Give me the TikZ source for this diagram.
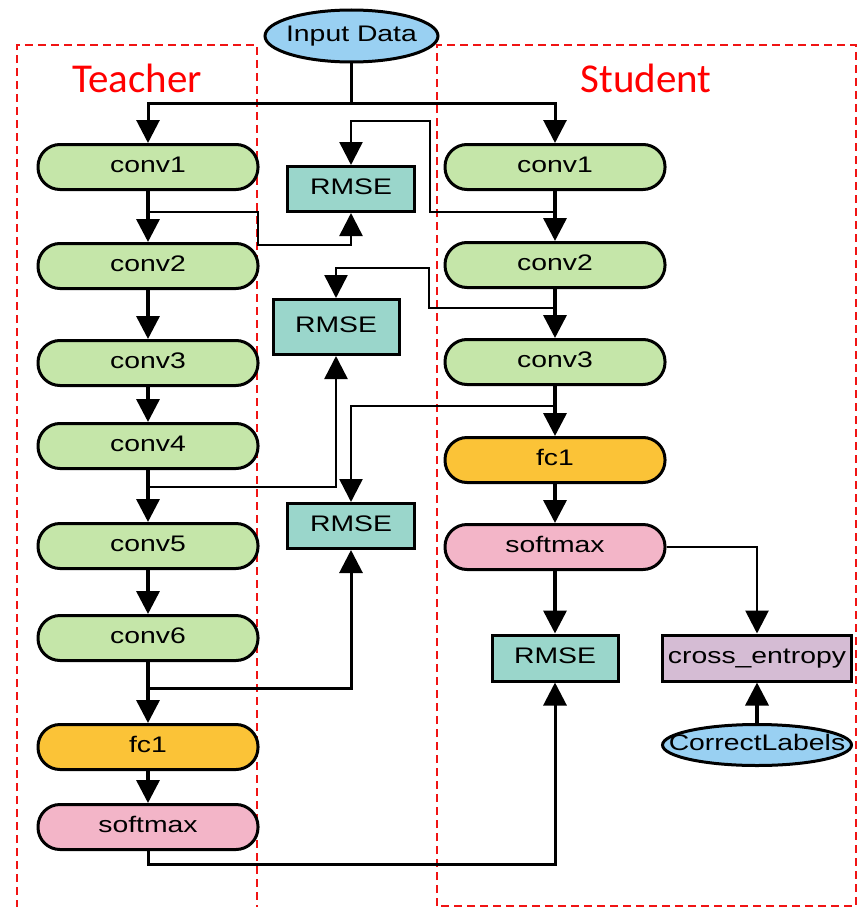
\documentclass[tikz,border=0pt]{standalone}
\usepackage{fontspec}
\usetikzlibrary{arrows.meta,shapes.geometric}
\newfontfamily\nodefont[FakeStretch=1.26]{Liberation Sans}
\newfontfamily\titlefont{Carlito}

\definecolor{convgreen}{RGB}{197,230,169}
\definecolor{fcyellow}{RGB}{251,195,55}
\definecolor{smpink}{RGB}{243,181,200}
\definecolor{rmseteal}{RGB}{154,214,203}
\definecolor{cepurple}{RGB}{213,188,212}
\definecolor{inblue}{RGB}{153,208,242}
\definecolor{dashred}{RGB}{240,20,20}

\tikzset{
  base/.style={draw=black, line width=3pt, inner sep=0pt,
    font=\nodefont\fontsize{22.5}{26}\selectfont, text height=16pt, text depth=5pt},
  pill/.style={base, rectangle, rounded corners=22pt, minimum width=220pt, minimum height=45pt},
  conv/.style={pill, fill=convgreen},
  fcnode/.style={pill, fill=fcyellow},
  smnode/.style={pill, fill=smpink},
  rmse/.style={base, rectangle, fill=rmseteal, minimum width=127pt, minimum height=45pt},
  cenode/.style={base, rectangle, fill=cepurple, minimum width=189pt, minimum height=46pt},
  oval/.style={base, ellipse, fill=inblue},
  ovaltext/.style={inner sep=0pt, font=\nodefont\fontsize{22.5}{26}\selectfont, text height=16pt, text depth=5pt},
  flow/.style={line width=3.5pt, -{Triangle[width=23pt,length=23pt]}},
  branch/.style={line width=2.5pt, -{Triangle[width=23pt,length=23pt]}},
  plain/.style={line width=3pt},
  group/.style={draw=dashred, line width=2.2pt, dash pattern=on 8pt off 5pt},
  grouptitle/.style={text=red, font=\titlefont\fontsize{41}{45}\selectfont, inner sep=0pt}
}

\begin{document}
\begin{tikzpicture}[x=1pt, y=-1pt]
  \path[use as bounding box, clip] (0,0) rectangle (859,907);

  % dashed group frames
  \draw[group] (17,960) -- (17,45) -- (257,45) -- (257,960);
  \draw[group] (437,906) -- (437,45) -- (856,45) -- (856,906) -- cycle;
  \node[grouptitle] (teachertitle) at (137,78) {Teacher};
  \node[grouptitle] (studenttitle) at (646,78) {Student};

  % input
  \node[oval, minimum width=173pt, minimum height=52pt] (in) at (351.5,36) {};
  \node[ovaltext] (intext) at (in) {Input Data};

  % teacher network
  \node[conv] (t1) at (148,167) {conv1};
  \node[conv] (t2) at (148,266) {conv2};
  \node[conv] (t3) at (148,363) {conv3};
  \node[conv] (t4) at (148,446) {conv4};
  \node[conv] (t5) at (148,546) {conv5};
  \node[conv] (t6) at (148,638) {conv6};
  \node[fcnode] (tfc) at (148,747) {fc1};
  \node[smnode] (tsm) at (148,827) {softmax};

  % student network
  \node[conv] (s1) at (555,167) {conv1};
  \node[conv] (s2) at (555,265) {conv2};
  \node[conv] (s3) at (555,362) {conv3};
  \node[fcnode] (sfc) at (555,460) {fc1};
  \node[smnode] (ssm) at (555,547) {softmax};

  % losses
  \node[rmse] (r1) at (351,189) {RMSE};
  \node[rmse, minimum height=55pt, minimum width=126pt] (r2) at (336,327) {RMSE};
  \node[rmse] (r3) at (351,526) {RMSE};
  \node[rmse, minimum height=46pt, minimum width=126pt] (r4) at (555,658) {RMSE};
  \node[cenode] (ce) at (757,658) {cross\_entropy};
  \node[oval, minimum width=189pt, minimum height=41pt] (cl) at (757,745) {};
  \node[ovaltext] (cltext) at (cl) {CorrectLabels};

  % split of the input
  \coordinate (split) at (351.5,103);
  \draw[plain] (in.south) -- (split);
  \draw[flow, line width=3pt] (split) -| (t1.north);
  \draw[flow, line width=3pt] (split) -| (s1.north);

  % teacher chain
  \draw[flow] (t1) -- (t2);
  \draw[flow] (t2) -- (t3);
  \draw[flow] (t3) -- (t4);
  \draw[flow] (t4) -- (t5);
  \draw[flow] (t5) -- (t6);
  \draw[flow] (t6) -- (tfc);
  \draw[flow] (tfc) -- (tsm);

  % student chain
  \draw[flow] (s1) -- (s2);
  \draw[flow] (s2) -- (s3);
  \draw[flow] (s3) -- (sfc);
  \draw[flow] (sfc) -- (ssm);
  \draw[flow] (ssm) -- (r4);
  \draw[branch, line width=2.8pt] (ssm.east) -| (ce.north);
  \draw[flow] (cl.north) -- (ce.south);

  % feature matching taps
  \coordinate (sb1) at (555,212);
  \coordinate (tb1) at (148,212);
  \coordinate (sb2) at (555,308);
  \coordinate (tb4) at (148,487);
  \coordinate (sb3) at (555,406);
  \coordinate (tb6) at (148,688);

  \draw[branch] (sb1) -- ++(-125,0) -- ++(0,-91) -| (r1.north);
  \draw[branch] (tb1) -- ++(110,0) -- ++(0,33) -| (r1.south);
  \draw[branch] (sb2) -- ++(-126,0) -- ++(0,-40) -| (r2.north);
  \draw[branch] (tb4) -| (r2.south);
  \draw[branch] (sb3) -| (r3.north);
  \draw[branch, line width=3pt] (tb6) -| (r3.south);
  \draw[branch, line width=3pt] (tsm.south) -- ++(0,13) -| (r4.south);
\end{tikzpicture}
\end{document}
